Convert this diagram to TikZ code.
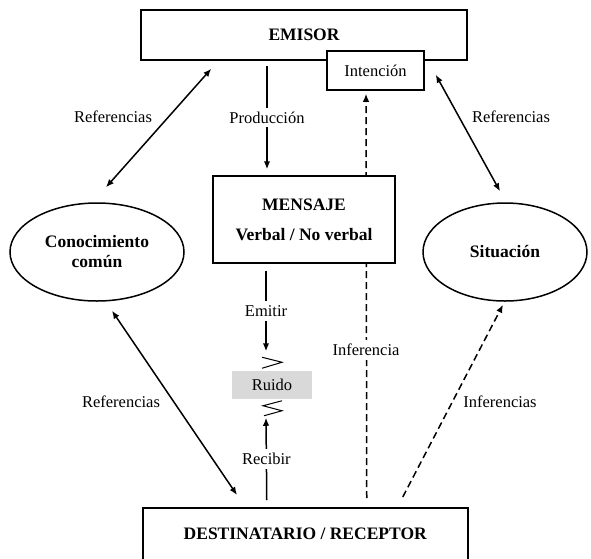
\documentclass[tikz,border=0pt]{standalone}
\usepackage{fontspec}
\setmainfont{Liberation Serif}
\usetikzlibrary{arrows.meta,shapes.geometric,calc,backgrounds}
\begin{document}
\begin{tikzpicture}[x=1pt,y=-1pt,
  line width=1.5pt,
  tip/.style={-{Latex[length=8pt,width=6.5pt]}},
  both/.style={{Latex[length=8pt,width=6.5pt]}-{Latex[length=8pt,width=6.5pt]}},
  box/.style={draw,rectangle,inner sep=0pt,fill=white,font=\fontsize{17.5}{20}\selectfont\bfseries},
  oval/.style={draw,ellipse,inner sep=0pt,fill=white,align=center,font=\fontsize{17.5}{20}\selectfont\bfseries},
  lbl/.style={font=\fontsize{16.5}{19}\selectfont,inner sep=1pt},
  gap/.style={lbl,fill=white,inner sep=4pt},
  infer/.style={line width=1.5pt,dash pattern=on 7pt off 4pt},
  squiggle/.style={line width=1pt,line join=miter}
]
\useasboundingbox (0,0) rectangle (591,558);

% boxes and ovals
\node[box,minimum width=326pt,minimum height=50pt] (emisor) at (304,35) {EMISOR};
\node[box,font=\fontsize{16.5}{19}\selectfont,minimum width=97pt,minimum height=39pt] (intencion) at (375.5,70.5) {Intención};
\node[box,align=center,minimum width=182pt,minimum height=87pt] (mensaje) at (304,219.5) {MENSAJE\\[10pt]Verbal / No verbal};
\node[fill=black!15,minimum width=80pt,minimum height=28pt,inner sep=0pt,font=\fontsize{16.5}{19}\selectfont] (ruido) at (272,385) {Ruido};
\node[box,anchor=north west,minimum width=325pt,minimum height=53pt] (dest) at (142,507) {DESTINATARIO / RECEPTOR};
\node[oval,minimum width=174pt,minimum height=98pt] (conoc) at (97,252) {Conocimiento\\común};
\node[oval,minimum width=164pt,minimum height=98pt] (sit) at (505,252) {Situación};

% inference line to the intention, passing behind the message box
\begin{scope}[on background layer]
\draw[infer,-{Latex[length=8pt,width=6.5pt]}] ($(dest.north)+(61.5,-9)$) -- ($(intencion.south)+(-9.5,3)$);
\end{scope}
\node[gap] (linf) at (366,350) {Inferencia};

% message flow
\draw[tip] ($(emisor.south)+(-37,5)$) -- node[gap] (lprod) {Producción} ($(mensaje.north)+(-37,-6)$);
\draw[tip] ($(mensaje.south)+(-38,7)$) -- node[gap] (lemit) {Emitir} ($(ruido.north)+(-6,-19)$);
\draw[tip] ($(dest.north)+(-38.5,-7)$) -- node[gap] (lrec) {Recibir} ($(ruido.south)+(-6,18)$);

% noise squiggles
\draw[squiggle] ($(ruido.north)+(-10,-13)$) -- ++(20,5) -- ++(-20,6);
\draw[squiggle] ($(ruido.south)+(10,1)$) -- ++(-19,5) -- ++(19,5) -- ++(-18,5);

% inference towards the situation
\draw[infer,tip] ($(dest.north)+(97.5,-10)$) -- ($(sit.south)+(-2,3)$);
\node[lbl] (linfs) at (500,402) {Inferencias};

% references
\draw[both] ($(conoc.north)+(9,-15)$) -- ($(emisor.south west)+(71,8)$);
\node[lbl] (lref1) at (113,117) {Referencias};
\draw[both] ($(emisor.south east)+(-32,14)$) -- ($(sit.north)+(-5,-11)$);
\node[lbl] (lref2) at (511,117) {Referencias};
\draw[both] ($(conoc.south)+(15,9)$) -- ($(dest.north west)+(95,-12)$);
\node[lbl] (lref3) at (121,402) {Referencias};
\end{tikzpicture}
\end{document}
